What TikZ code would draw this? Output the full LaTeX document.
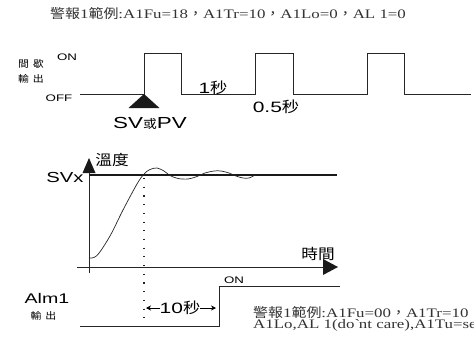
\documentclass[tikz,border=0pt]{standalone}
\usepackage{fontspec}
\setmainfont{Liberation Serif}[FakeStretch=1.3]
\newfontfamily\sff{Liberation Sans}[FakeStretch=1.4]
\newfontfamily\cjk{Noto Sans CJK TC}[FakeStretch=1.15]
\usetikzlibrary{arrows.meta}
\begin{document}
\begin{tikzpicture}[x=1pt,y=-1pt,
  wave/.style={line width=0.9pt, black!85},
  axis/.style={line width=0.9pt, black!85},
  tri/.style={fill=black!90, draw=none},
  lbl/.style={inner sep=0pt, font=\sff},
  cj/.style={inner sep=0pt, font=\cjk},
  note/.style={inner sep=0pt, anchor=base west, text=black!80, font=\fontsize{13}{13}\selectfont}]
\useasboundingbox (0,0) rectangle (474,340);
% title
\node[note] (title) at (50,19) {{\cjk 警報}1{\cjk 範例}:A1Fu=18{\cjk ，}A1Tr=10{\cjk ，}A1Lo=0{\cjk ，}AL 1=0};
% pulse train labels
\node[cj, font=\cjk\fontsize{9.5}{10}\selectfont] (jx) at (31,64) {間\hspace{4pt}歇};
\node[cj, font=\cjk\fontsize{9.5}{10}\selectfont] (sc1) at (31,79) {輸\hspace{4pt}出};
\node[lbl, anchor=base, font=\sff\fontsize{9.5}{10}\selectfont] (on1) at (67,60) {ON};
\node[lbl, anchor=base, font=\sff\fontsize{9.5}{10}\selectfont] (off1) at (59,101) {OFF};
% pulse train
\coordinate (w0) at (80,94);
\coordinate (r1) at (144,94);
\coordinate (w9) at (471,94);
\draw[wave] (w0) -- (r1) -- (144,53) -- (181,53) -- (181,94) -- (255,94) -- (255,53) -- (293,53) -- (293,94)
  -- (367,94) -- (367,53) -- (404,53) -- (404,94) -- (w9);
\fill[tri] (r1) -- (159.5,108) -- (128.5,108) -- cycle;
\node[lbl, anchor=base, font=\sff\fontsize{16}{16}\selectfont] (svpv) at (150,128) {SV{\cjk\fontsize{12}{12}\selectfont 或}PV};
\node[lbl, anchor=base, font=\sff\fontsize{15}{15}\selectfont] (s1) at (213,93) {1{\cjk 秒}};
\node[lbl, anchor=base, font=\sff\fontsize{15}{15}\selectfont] (s05) at (276,112) {0.5{\cjk 秒}};
% graph
\coordinate (yb) at (89,273);
\coordinate (yt) at (89,166);
\coordinate (xl) at (77,267);
\coordinate (xr) at (326,267);
\draw[axis] (yb) -- (yt);
\fill[tri] (89,158) -- (95.5,173) -- (82.5,173) -- cycle;
\draw[axis] (xl) -- (xr);
\fill[tri] (338,267) -- (323,259) -- (323,275) -- cycle;
\coordinate (sv0) at (89,174.5);
\coordinate (sv1) at (337,174.5);
\draw[line width=2pt, black!90] (sv0) -- (sv1);
\draw[line width=0.7pt, black!85] plot[smooth, tension=0.55] coordinates {
  (89,258) (97,255.5) (110,236) (123,210) (137,184) (144,174) (150,169.5) (157,168) (164,171) (170,175.5)
  (178,178.5) (188,179) (197,176.5) (205,173) (214,171) (221,171) (229,173) (236,176) (243,178) (249,178) (255,175)};
\node[lbl, anchor=base, font=\sff\fontsize{14.5}{15}\selectfont] (svx) at (65,182) {SVx};
\node[cj, font=\cjk\fontsize{14.5}{15}\selectfont] (wd) at (112,160) {溫度};
\node[cj, font=\cjk\fontsize{14.5}{15}\selectfont] (sj) at (318,254) {時間};
\coordinate (d0) at (144,178);
\coordinate (d1) at (144,323);
\draw[line width=1.1pt, black!85, dash pattern=on 1.1pt off 7.6pt] (d0) -- (d1);
% alarm output
\coordinate (a0) at (80,326);
\coordinate (a1) at (219,326);
\coordinate (a2) at (219,286);
\coordinate (a3) at (340,286);
\draw[wave] (a0) -- (a1) -- (a2) -- (a3);
\node[lbl, anchor=base, font=\sff\fontsize{9.5}{10}\selectfont] (on2) at (234,283) {ON};
\node[lbl, anchor=base, font=\sff\fontsize{14}{14}\selectfont] (alm) at (47,303) {Alm1};
\node[cj, font=\cjk\fontsize{9.5}{10}\selectfont] (sc2) at (43.5,316) {輸\hspace{4pt}出};
\node[lbl, anchor=base, font=\sff\fontsize{15}{15}\selectfont] (t10) at (180,313) {10{\cjk 秒}};
\coordinate (l1) at (160,308);
\coordinate (l0) at (146,308);
\coordinate (r0) at (200,308);
\coordinate (r2) at (216,308);
\draw[line width=1pt, -{Stealth[length=5pt,width=5pt]}] (l1) -- (l0);
\draw[line width=1pt, -{Stealth[length=5pt,width=5pt]}] (r0) -- (r2);
\node[note] (n1) at (253,317) {{\cjk 警報}1{\cjk 範例}:A1Fu=00{\cjk ，}A1Tr=10};
\node[note] (n2) at (253,328) {A1Lo,AL 1(do\textasciigrave nt care),A1Tu=se};
\end{tikzpicture}
\end{document}
